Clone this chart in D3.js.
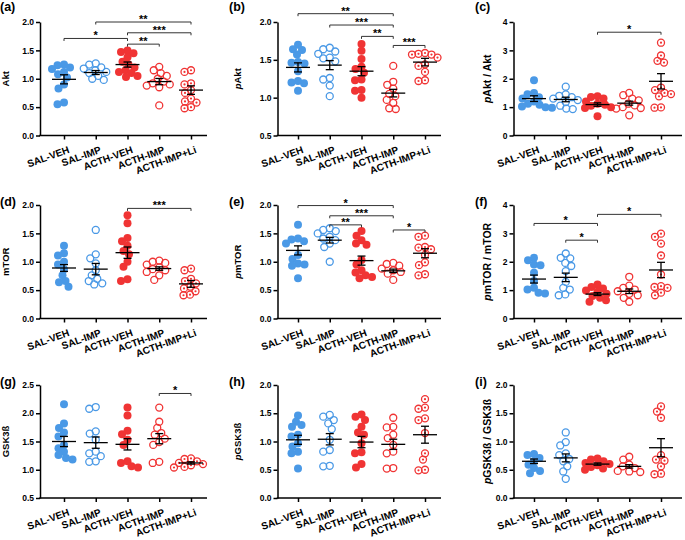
<!DOCTYPE html>
<html><head><meta charset="utf-8">
<script src="https://cdn.jsdelivr.net/npm/d3@7"></script>
<style>
body{margin:0;background:#fff}
svg{display:block}
text{font-family:"Liberation Sans",Arial,sans-serif;font-weight:bold;fill:#000}
</style>
</head><body>
<svg id="chart" width="685" height="540"></svg>
<script>
// ---------- DATA ----------
const categories = ["SAL-VEH","SAL-IMP","ACTH-VEH","ACTH-IMP","ACTH-IMP+Li"];

const aktValues = [
  [1.25,1.24,1.2,1.17,1.12,1.08,1.02,0.9,0.83,0.58,0.55],
  [1.27,1.25,1.2,1.18,1.15,1.12,1.1,1.05,1.0,0.98],
  [1.5,1.47,1.45,1.38,1.3,1.25,1.2,1.15,1.12,1.1,1.05,1.03],
  [1.21,1.15,1.1,1.05,1.0,0.95,0.92,0.9,0.88,0.85,0.53],
  [1.15,1.12,0.92,0.9,0.8,0.75,0.65,0.6,0.58,0.5,0.48]];
const aktMean = [0.99,1.11,1.25,0.95,0.80];
const aktSem = [0.08,0.035,0.045,0.055,0.075];
const aktBrackets = [[0,2,1.71,"*"],[1,4,2.0,"**"],[2,4,1.81,"***"],[2,3,1.61,"**"]];

const pAktValues = [
  [1.70,1.64,1.63,1.57,1.47,1.46,1.45,1.35,1.22,1.20,1.19,1.09],
  [1.66,1.64,1.61,1.58,1.53,1.52,1.48,1.26,1.24,1.16,1.02],
  [1.71,1.62,1.51,1.41,1.38,1.33,1.24,1.23,1.1,1.09,1.0],
  [1.42,1.21,1.17,1.12,1.05,1.02,0.97,0.93,0.86,0.85],
  [1.59,1.58,1.57,1.57,1.53,1.44,1.42,1.34,1.23,1.22]];
const pAktMean = [1.40,1.43,1.35,1.06,1.47];
const pAktSem = [0.06,0.06,0.06,0.05,0.05];
const pAktBrackets = [[0,3,2.11,"**"],[1,3,1.96,"***"],[2,3,1.81,"**"],[3,4,1.69,"***"]];

const aktRatioValues = [
  [1.95,1.5,1.45,1.35,1.3,1.2,1.12,1.08,1.02,1.0,0.98],
  [1.72,1.45,1.4,1.35,1.3,1.25,1.18,1.05,0.95,0.93],
  [1.38,1.36,1.3,1.2,1.12,1.08,1.05,1.0,0.97,0.68],
  [1.5,1.42,1.3,1.24,1.12,1.06,1.0,0.97,0.95,0.71],
  [3.27,2.82,2.63,2.57,1.69,1.6,1.5,1.46,1.38,0.99,0.98]];
const aktRatioMean = [1.30,1.27,1.09,1.14,1.91];
const aktRatioSem = [0.10,0.08,0.06,0.07,0.27];
const aktRatioBrackets = [[2,4,3.64,"*"]];

const mtorValues = [
  [1.28,1.15,1.11,1.0,0.95,0.87,0.76,0.66,0.64,0.56],
  [1.56,1.13,1.06,0.97,0.85,0.76,0.7,0.66,0.62,0.6],
  [1.82,1.68,1.42,1.36,1.28,1.19,1.13,1.0,0.91,0.69,0.66],
  [1.02,1.0,0.98,0.95,0.9,0.87,0.85,0.82,0.76,0.68],
  [0.88,0.85,0.7,0.66,0.62,0.56,0.53,0.48,0.42,0.41]];
const mtorMean = [0.89,0.87,1.16,0.88,0.61];
const mtorSem = [0.06,0.10,0.10,0.03,0.06];
const mtorBrackets = [[2,4,1.94,"***"]];

const pmtorValues = [
  [1.65,1.41,1.39,1.36,1.32,1.12,1.05,0.97,0.95,0.93,0.71],
  [1.59,1.56,1.54,1.5,1.44,1.41,1.38,1.32,1.26,1.0],
  [1.54,1.46,1.38,1.32,1.3,1.03,0.95,0.85,0.81,0.76,0.73,0.71],
  [0.98,0.96,0.93,0.88,0.85,0.82,0.79,0.68],
  [1.46,1.44,1.26,1.25,1.22,1.12,0.99,0.94,0.78,0.76]];
const pmtorMean = [1.20,1.38,1.02,0.84,1.15];
const pmtorSem = [0.08,0.05,0.08,0.03,0.08];
const pmtorBrackets = [[0,3,1.99,"*"],[1,3,1.81,"***"],[1,2,1.65,"**"],[3,4,1.56,"*"]];

const mtorRatioValues = [
  [2.14,2.05,1.9,1.88,1.61,1.32,1.08,1.02,0.91,0.88],
  [2.29,2.14,2.12,1.96,1.85,1.67,1.29,1.08,1.02,0.85,0.82],
  [1.2,1.11,1.06,0.99,0.94,0.87,0.79,0.73,0.64,0.59],
  [1.47,1.16,1.08,1.02,0.96,0.87,0.82,0.73,0.59],
  [2.99,2.88,2.64,2.22,1.55,1.14,1.11,1.08,0.91,0.82]];
const mtorRatioMean = [1.39,1.45,0.86,0.96,1.71];
const mtorRatioSem = [0.14,0.15,0.05,0.08,0.27];
const mtorRatioBrackets = [[0,2,3.35,"*"],[1,2,2.76,"*"],[2,4,3.67,"*"]];

const gskValues = [
  [2.16,1.82,1.74,1.66,1.59,1.44,1.38,1.32,1.26,1.21,1.18],
  [2.11,2.08,1.68,1.64,1.53,1.32,1.29,1.24,1.15,1.14],
  [2.1,1.96,1.69,1.63,1.53,1.44,1.15,1.12,1.06,1.04],
  [2.1,1.85,1.74,1.65,1.62,1.55,1.49,1.44,1.14,1.12],
  [1.2,1.19,1.15,1.12,1.1,1.08,1.05,1.04]];
const gskMean = [1.50,1.48,1.45,1.55,1.12];
const gskSem = [0.09,0.10,0.10,0.09,0.02];
const gskBrackets = [[3,4,2.35,"*"]];

const pgskValues = [
  [1.46,1.35,1.29,1.26,1.12,1.09,0.97,0.91,0.82,0.79,0.52],
  [1.47,1.44,1.38,1.32,1.22,1.03,0.85,0.82,0.57,0.56],
  [1.48,1.44,1.38,1.26,1.16,1.12,0.97,0.81,0.79,0.6,0.54],
  [1.42,1.26,1.25,1.12,1.06,0.94,0.82,0.79,0.53,0.52],
  [1.75,1.6,1.58,1.41,1.38,1.15,0.79,0.68,0.5,0.49]];
const pgskMean = [1.03,1.04,0.99,0.95,1.12];
const pgskSem = [0.08,0.10,0.10,0.09,0.15];
const pgskBrackets = [];

const gskRatioValues = [
  [0.78,0.76,0.71,0.65,0.59,0.53,0.48,0.44],
  [1.16,0.99,0.93,0.79,0.76,0.69,0.65,0.56,0.47,0.34],
  [0.7,0.68,0.65,0.62,0.6,0.58,0.55,0.52,0.5],
  [0.73,0.68,0.59,0.56,0.53,0.48,0.47,0.46],
  [1.62,1.53,1.42,0.76,0.68,0.66,0.56,0.43,0.42]];
const gskRatioMean = [0.65,0.71,0.60,0.56,0.89];
const gskRatioSem = [0.04,0.07,0.02,0.03,0.16];
const gskRatioBrackets = [];

const ticks0to2 = [0,0.5,1.0,1.5,2.0];
const ticks05to2 = [0.5,1.0,1.5,2.0];
const ticks0to4 = [0,1,2,3,4];
const ticks05to25 = [0.5,1.0,1.5,2.0,2.5];

// ---------- LAYOUT / STYLE ----------
const blue = "#4a99e6", red = "#f03434";
const colAxisX = [40, 277.5, 513.5];
const colAxisEnd = [207, 441, 682];
const colRange = [[64,191],[298,425],[534,661]];
const colTitleX = [6, 238, 487];
const colLabelX = [0, 229, 475];
const rowTop = [22, 205, 385];
const rowBottom = [135.5, 318.5, 498];
const rowLabelY = [11, 206, 386];

const panels = [
  {lab:"(a)",row:0,col:0,title:[["","Akt"]],dom:[0,2],ticks:ticks0to2,fmt:".1f",v:aktValues,m:aktMean,s:aktSem,b:aktBrackets,ts:9.5},
  {lab:"(b)",row:0,col:1,title:[["p","Akt"]],dom:[0.5,2],ticks:ticks05to2,fmt:".1f",v:pAktValues,m:pAktMean,s:pAktSem,b:pAktBrackets,ts:9.5},
  {lab:"(c)",row:0,col:2,title:[["p","Akt / Akt"]],dom:[0,4],ticks:ticks0to4,fmt:"d",v:aktRatioValues,m:aktRatioMean,s:aktRatioSem,b:aktRatioBrackets,ts:10.5},
  {lab:"(d)",row:1,col:0,title:[["","mTOR"]],dom:[0,2],ticks:ticks0to2,fmt:".1f",v:mtorValues,m:mtorMean,s:mtorSem,b:mtorBrackets,ts:9.5},
  {lab:"(e)",row:1,col:1,title:[["p","mTOR"]],dom:[0,2],ticks:ticks0to2,fmt:".1f",v:pmtorValues,m:pmtorMean,s:pmtorSem,b:pmtorBrackets,ts:9.5},
  {lab:"(f)",row:1,col:2,title:[["p","mTOR / mTOR"]],dom:[0,4],ticks:ticks0to4,fmt:"d",v:mtorRatioValues,m:mtorRatioMean,s:mtorRatioSem,b:mtorRatioBrackets,ts:10.5},
  {lab:"(g)",row:2,col:0,title:[["","GSK3ß"]],dom:[0.5,2.5],ticks:ticks05to25,fmt:".1f",v:gskValues,m:gskMean,s:gskSem,b:gskBrackets,ts:9.5},
  {lab:"(h)",row:2,col:1,title:[["p","GSK3ß"]],dom:[0,2],ticks:ticks0to2,fmt:".1f",v:pgskValues,m:pgskMean,s:pgskSem,b:pgskBrackets,ts:9.5},
  {lab:"(i)",row:2,col:2,title:[["p","GSK3ß / GSK3ß"]],dom:[0,2],ticks:ticks0to2,fmt:".1f",v:gskRatioValues,m:gskRatioMean,s:gskRatioSem,b:gskRatioBrackets,ts:10.5}
];

const svg = d3.select("#chart");

function swarm(vals, y, minDist){
  const idx = vals.map((v,i)=>i).sort((a,b)=>vals[b]-vals[a]);
  const placed=[]; const offs=new Array(vals.length).fill(0);
  idx.forEach(i=>{
    const py=y(vals[i]);
    for(let k=0;k<400;k++){
      const o=(k%2===0?1:-1)*Math.ceil(k/2)*0.5;
      if(placed.every(p=>Math.hypot(p[0]-o,p[1]-py)>=minDist)){offs[i]=o;placed.push([o,py]);break;}
    }
  });
  return offs;
}

panels.forEach(p=>{
  const g = svg.append("g");
  const x = d3.scalePoint().domain(categories).range(colRange[p.col]);
  const y = d3.scaleLinear().domain(p.dom).range([rowBottom[p.row], rowTop[p.row]]);
  const ax = colAxisX[p.col], ab = rowBottom[p.row];

  // y axis
  const ya = g.append("g").attr("transform",`translate(${ax},0)`)
    .call(d3.axisLeft(y).tickValues(p.ticks).tickFormat(d3.format(p.fmt)).tickSize(4).tickSizeOuter(0).tickPadding(2));
  ya.select(".domain").attr("stroke","#000").attr("stroke-width",1.5);
  ya.selectAll(".tick line").attr("stroke-width",1.5);
  ya.selectAll(".tick text").attr("font-size",8.5).attr("font-family","Liberation Sans, Arial, sans-serif").attr("font-weight","bold");

  // x axis
  const xa = g.append("g").attr("transform",`translate(0,${ab})`)
    .call(d3.axisBottom(x).tickSize(4).tickSizeOuter(0));
  xa.select(".domain").remove();
  xa.append("line").attr("x1",ax-0.75).attr("x2",colAxisEnd[p.col]).attr("stroke","#000").attr("stroke-width",1.5);
  xa.selectAll(".tick line").attr("stroke-width",1.5);
  xa.selectAll(".tick text").attr("font-size",10).attr("font-family","Liberation Sans, Arial, sans-serif").attr("font-weight","bold")
    .attr("text-anchor","end").attr("x",0).attr("y",0).attr("dy",0)
    .attr("transform","translate(5.5,17) rotate(-20)");

  // y title
  const t = g.append("text").attr("transform",`translate(${colTitleX[p.col]},${(rowTop[p.row]+rowBottom[p.row])/2}) rotate(-90)`)
    .attr("text-anchor","middle").attr("dy","0.35em").attr("font-size",p.ts);
  p.title.forEach(([it,rest])=>{
    if(it) t.append("tspan").attr("font-style","italic").text(it);
    t.append("tspan").text(rest);
  });

  // panel label
  g.append("text").attr("x",colLabelX[p.col]).attr("y",rowLabelY[p.row]).attr("font-size",12.5).text(p.lab);

  // points
  p.v.forEach((vals,gi)=>{
    const cx = x(categories[gi]);
    const offs = swarm(vals,y,6.4);
    const col = gi<2?blue:red;
    const filled = gi===0||gi===2;
    vals.forEach((v,i)=>{
      g.append("circle").attr("cx",cx+offs[i]).attr("cy",y(v)).attr("r",filled?4:3.5)
        .attr("fill",filled?col:"none").attr("stroke",filled?"none":col).attr("stroke-width",1.3);
      if(gi===4) g.append("circle").attr("cx",cx+offs[i]).attr("cy",y(v)).attr("r",1.1).attr("fill",col);
    });
  });

  // mean & sem
  p.m.forEach((m,gi)=>{
    const cx = x(categories[gi]);
    const s = p.s[gi];
    g.append("line").attr("x1",cx-12).attr("x2",cx+12).attr("y1",y(m)).attr("y2",y(m)).attr("stroke","#000").attr("stroke-width",1.3);
    g.append("line").attr("x1",cx).attr("x2",cx).attr("y1",y(m-s)).attr("y2",y(m+s)).attr("stroke","#000").attr("stroke-width",1.3);
    [m-s,m+s].forEach(e=>g.append("line").attr("x1",cx-4).attr("x2",cx+4).attr("y1",y(e)).attr("y2",y(e)).attr("stroke","#000").attr("stroke-width",1.3));
  });

  // brackets
  p.b.forEach(([a,b,yv,lab])=>{
    const x1=x(categories[a]), x2=x(categories[b]), yy=y(yv);
    g.append("path").attr("d",`M${x1},${yy+2.5}V${yy}H${x2}V${yy+2.5}`).attr("fill","none").attr("stroke","#333").attr("stroke-width",1);
    g.append("text").attr("x",(x1+x2)/2).attr("y",yy+1).attr("text-anchor","middle").attr("font-size",11).attr("fill","#222").text(lab);
  });
});
</script>
</body></html>
